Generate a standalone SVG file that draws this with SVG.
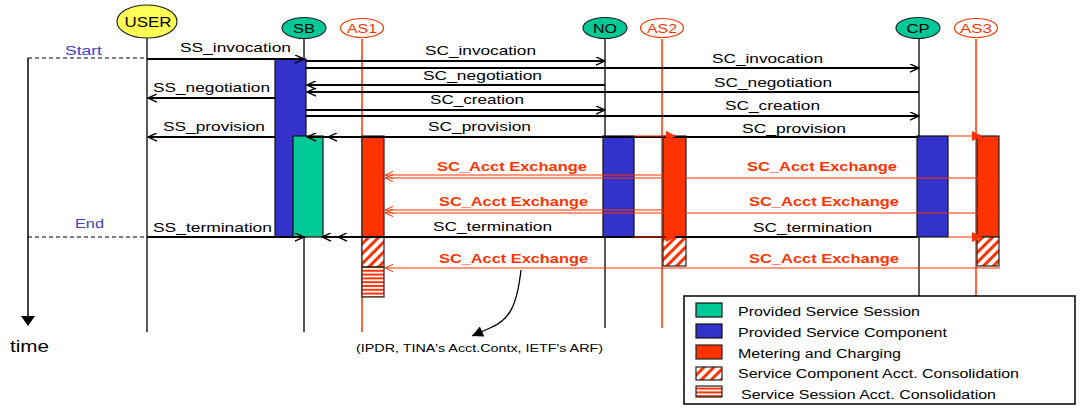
<svg xmlns="http://www.w3.org/2000/svg" width="1080" height="409" viewBox="0 0 1080 409">
<style>
text{font-family:"Liberation Sans",Arial,sans-serif;}
.lbl{font-size:13.5px;fill:#000;}
.red{font-size:13.5px;fill:#ff3300;font-weight:bold;}
.node{font-size:13px;text-anchor:middle;}
.leg{font-size:12.5px;fill:#000;}
.life{stroke:#222;stroke-width:1.5;fill:none;}
.lifer{stroke:#ff3300;stroke-width:1.5;fill:none;}
.msg{stroke:#000;stroke-width:2;fill:none;marker-end:url(#open);}
.rmsg{stroke:#ff3300;stroke-width:1.2;fill:none;marker-end:url(#openR);}
.trig{stroke:#ff3300;stroke-width:1.2;fill:none;marker-end:url(#fillR);}
.blue{fill:#3333cc;stroke:#111;stroke-width:1.2;}
.green{fill:#00c896;stroke:#111;stroke-width:1.2;}
.redb{fill:#ff3300;stroke:#222;stroke-width:1.2;}
.diag{fill:url(#diag);stroke:#222;stroke-width:1.2;}
.hstr{fill:url(#hstr);stroke:#222;stroke-width:1.2;}
.dash{stroke:#000;stroke-width:1.2;stroke-dasharray:4,3;fill:none;}
</style>
<defs>
<marker id="open" viewBox="0 0 10 10" refX="10" refY="5" markerWidth="11" markerHeight="9" markerUnits="userSpaceOnUse" orient="auto">
<path d="M0,0.5 L10,5 L0,9.5" fill="none" stroke="#000" stroke-width="1.6"/>
</marker>
<marker id="openR" viewBox="0 0 10 10" refX="10" refY="5" markerWidth="10" markerHeight="8" markerUnits="userSpaceOnUse" orient="auto">
<path d="M0,0.5 L10,5 L0,9.5" fill="none" stroke="#ff3300" stroke-width="1.2"/>
</marker>
<marker id="fillR" viewBox="0 0 10 10" refX="10" refY="5" markerWidth="14" markerHeight="10" markerUnits="userSpaceOnUse" orient="auto">
<path d="M0,0 L10,5 L0,10 Z" fill="#ff3300"/>
</marker>
<marker id="fillK" viewBox="0 0 10 10" refX="10" refY="5" markerWidth="16" markerHeight="11" markerUnits="userSpaceOnUse" orient="auto">
<path d="M0,0 L10,5 L0,10 Z" fill="#000"/>
</marker>
<pattern id="diag" patternUnits="userSpaceOnUse" width="7" height="7" patternTransform="rotate(45)">
<rect width="7" height="7" fill="#fff"/><rect width="3" height="7" fill="#ff3300"/>
</pattern>
<pattern id="hstr" patternUnits="userSpaceOnUse" width="8" height="3.8">
<rect width="8" height="3.8" fill="#fff"/><rect width="8" height="2" fill="#ff3300"/>
</pattern>
</defs>
<rect width="1080" height="409" fill="#fff"/>

<g id="time-axis">
<path d="M28,58 V318" stroke="#000" stroke-width="1.5" fill="none"/>
<path d="M21,316 L35,316 L28,326 Z" fill="#000"/>
<path class="dash" d="M28,58 H147"/>
<path class="dash" d="M28,237 H147"/>
<text x="65" y="55" style="font-size:13px;fill:#4040cc" textLength="37" lengthAdjust="spacingAndGlyphs">Start</text>
<text x="75" y="228" style="font-size:13px;fill:#4040cc" textLength="29" lengthAdjust="spacingAndGlyphs">End</text>
<text x="10" y="352" style="font-size:16px;fill:#000" textLength="39" lengthAdjust="spacingAndGlyphs">time</text>
</g>

<g id="lifelines">
<path class="life" d="M147,38 V332"/>
<path class="life" d="M304,39 V332"/>
<path class="lifer" d="M362,39 V332"/>
<path class="life" d="M605,39 V328"/>
<path class="lifer" d="M662,39 V328"/>
<path class="life" d="M919,39 V296"/>
<path class="lifer" d="M976,39 V296"/>
</g>

<g id="USER"><ellipse cx="147" cy="21.5" rx="30" ry="16.5" fill="#ffff55" stroke="#222" stroke-width="1.2"/><text class="node" x="148" y="27" style="font-size:14px" textLength="47" lengthAdjust="spacingAndGlyphs">USER</text></g>
<g id="SB"><ellipse cx="304" cy="28" rx="22" ry="10.5" fill="#00c896" stroke="#222" stroke-width="1.2"/><text class="node" x="304" y="33" textLength="22" lengthAdjust="spacingAndGlyphs">SB</text></g>
<g id="AS1"><ellipse cx="362" cy="28" rx="21.5" ry="9.5" fill="#fff" stroke="#ff3300" stroke-width="1.2"/><text class="node" x="362" y="33" fill="#ff3300" textLength="30" lengthAdjust="spacingAndGlyphs">AS1</text></g>
<g id="NO"><ellipse cx="605" cy="28" rx="22" ry="10.5" fill="#00c896" stroke="#222" stroke-width="1.2"/><text class="node" x="605" y="33" textLength="24" lengthAdjust="spacingAndGlyphs">NO</text></g>
<g id="AS2"><ellipse cx="662" cy="28" rx="21.5" ry="9.5" fill="#fff" stroke="#ff3300" stroke-width="1.2"/><text class="node" x="662" y="33" fill="#ff3300" textLength="30" lengthAdjust="spacingAndGlyphs">AS2</text></g>
<g id="CP"><ellipse cx="918" cy="28" rx="22" ry="10.5" fill="#00c896" stroke="#222" stroke-width="1.2"/><text class="node" x="918" y="33" textLength="23" lengthAdjust="spacingAndGlyphs">CP</text></g>
<g id="AS3"><ellipse cx="976" cy="28" rx="21.5" ry="9.5" fill="#fff" stroke="#ff3300" stroke-width="1.2"/><text class="node" x="976" y="33" fill="#ff3300" textLength="32" lengthAdjust="spacingAndGlyphs">AS3</text></g>

<g id="bars">
<rect id="SB-component" class="blue" x="275" y="59" width="31" height="178"/>
<rect id="SB-session" class="green" x="293" y="136" width="30" height="101"/>
<rect id="AS1-metering" class="redb" x="362" y="136" width="22" height="101"/>
<rect id="AS1-comp-consol" class="diag" x="362" y="237" width="22" height="30"/>
<rect id="AS1-sess-consol" class="hstr" x="362" y="267" width="22" height="30"/>
<rect id="NO-component" class="blue" x="603" y="136" width="31" height="101"/>
<rect id="AS2-metering" class="redb" x="663" y="136" width="23" height="101"/>
<rect id="AS2-comp-consol" class="diag" x="663" y="237" width="23" height="29"/>
<rect id="CP-component" class="blue" x="917" y="136" width="31" height="101"/>
<rect id="AS3-metering" class="redb" x="977" y="136" width="22" height="101"/>
<rect id="AS3-comp-consol" class="diag" x="977" y="237" width="22" height="29"/>
</g>

<g id="connectors">
<path class="msg" d="M147,59 H304"/>
<path class="msg" d="M306,61 H605"/>
<path class="msg" d="M306,68 H919"/>
<path class="msg" d="M605,85 H307"/>
<path class="msg" d="M919,92 H307"/>
<path class="msg" d="M275,98 H148"/>
<path class="msg" d="M306,110 H605"/>
<path class="msg" d="M306,116 H919"/>
<path class="msg" d="M275,137 H148"/>
<path class="msg" d="M919,137 H307"/>
<path class="msg" d="M603,137 H328"/>
<path class="msg" d="M147,237 H304"/>
<path class="msg" d="M917,237 H322"/>
<path class="msg" d="M603,237 H338"/>
<path class="trig" d="M634,136 H676"/>
<path class="trig" d="M634,237 H676"/>
<path class="trig" d="M948,136 H982"/>
<path class="trig" d="M948,237 H982"/>
<path class="rmsg" d="M663,175 H385"/>
<path class="rmsg" d="M1000,178 H385"/>
<path class="rmsg" d="M663,210 H385"/>
<path class="rmsg" d="M1000,213 H385"/>
<path class="rmsg" d="M1000,268 H385"/>
<path d="M521,270 C517,305 510,320 490,328 L472,336" stroke="#000" stroke-width="1.3" fill="none" marker-end="url(#fillK)"/>
</g>

<g id="labels">
<text class="lbl" x="180" y="52" textLength="111" lengthAdjust="spacingAndGlyphs">SS_invocation</text>
<text class="lbl" x="153" y="92" textLength="117" lengthAdjust="spacingAndGlyphs">SS_negotiation</text>
<text class="lbl" x="163" y="131" textLength="102" lengthAdjust="spacingAndGlyphs">SS_provision</text>
<text class="lbl" x="153" y="232" textLength="119" lengthAdjust="spacingAndGlyphs">SS_termination</text>
<text class="lbl" x="425" y="55" textLength="111" lengthAdjust="spacingAndGlyphs">SC_invocation</text>
<text class="lbl" x="423" y="80" textLength="119" lengthAdjust="spacingAndGlyphs">SC_negotiation</text>
<text class="lbl" x="430" y="104" textLength="94" lengthAdjust="spacingAndGlyphs">SC_creation</text>
<text class="lbl" x="428" y="131" textLength="103" lengthAdjust="spacingAndGlyphs">SC_provision</text>
<text class="lbl" x="433" y="231" textLength="119" lengthAdjust="spacingAndGlyphs">SC_termination</text>
<text class="lbl" x="712" y="63" textLength="111" lengthAdjust="spacingAndGlyphs">SC_invocation</text>
<text class="lbl" x="714" y="87" textLength="118" lengthAdjust="spacingAndGlyphs">SC_negotiation</text>
<text class="lbl" x="725" y="110" textLength="95" lengthAdjust="spacingAndGlyphs">SC_creation</text>
<text class="lbl" x="742" y="133" textLength="104" lengthAdjust="spacingAndGlyphs">SC_provision</text>
<text class="lbl" x="753" y="232" textLength="119" lengthAdjust="spacingAndGlyphs">SC_termination</text>
<text class="red" x="437" y="171" textLength="150" lengthAdjust="spacingAndGlyphs">SC_Acct Exchange</text>
<text class="red" x="439" y="206" textLength="149" lengthAdjust="spacingAndGlyphs">SC_Acct Exchange</text>
<text class="red" x="439" y="263" textLength="149" lengthAdjust="spacingAndGlyphs">SC_Acct Exchange</text>
<text class="red" x="747" y="171" textLength="150" lengthAdjust="spacingAndGlyphs">SC_Acct Exchange</text>
<text class="red" x="749" y="206" textLength="150" lengthAdjust="spacingAndGlyphs">SC_Acct Exchange</text>
<text class="red" x="749" y="263" textLength="150" lengthAdjust="spacingAndGlyphs">SC_Acct Exchange</text>
<text x="356" y="352" style="font-size:10.5px;fill:#000" textLength="247" lengthAdjust="spacingAndGlyphs">(IPDR, TINA's Acct.Contx, IETF's ARF)</text>
</g>

<g id="legend">
<rect x="684" y="296" width="391" height="108" fill="#fff" stroke="#000" stroke-width="1.5"/>
<rect class="green" x="696" y="303" width="26" height="14"/>
<rect class="blue" x="696" y="324" width="26" height="14"/>
<rect class="redb" x="696" y="345" width="26" height="14"/>
<rect class="diag" x="696" y="367" width="26" height="13"/>
<rect class="hstr" x="696" y="386" width="26" height="11"/>
<text class="leg" x="738" y="316" textLength="182" lengthAdjust="spacingAndGlyphs">Provided Service Session</text>
<text class="leg" x="738" y="337" textLength="209" lengthAdjust="spacingAndGlyphs">Provided Service Component</text>
<text class="leg" x="738" y="358" textLength="163" lengthAdjust="spacingAndGlyphs">Metering and Charging</text>
<text class="leg" x="738" y="378" textLength="281" lengthAdjust="spacingAndGlyphs">Service Component Acct. Consolidation</text>
<text class="leg" x="741" y="399" textLength="255" lengthAdjust="spacingAndGlyphs">Service Session Acct. Consolidation</text>
</g>
</svg>
